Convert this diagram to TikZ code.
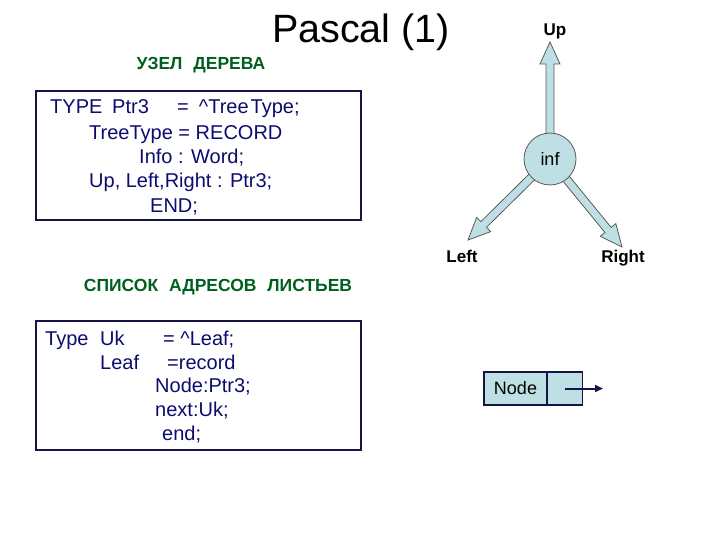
\documentclass[tikz,border=0pt]{standalone}
\usepackage{fontspec}
\setmainfont{Liberation Sans}
\usetikzlibrary{positioning, calc, backgrounds, arrows.meta}

\definecolor{codeblue}{RGB}{12,12,110}
\definecolor{headgreen}{RGB}{0,95,30}
\definecolor{paleblue}{RGB}{190,224,228}
\definecolor{boxline}{RGB}{20,20,70}

% fat block arrow from #1 to #2
\newcommand{\fatarrow}[2]{%
  \coordinate (fa-h) at ($(#2)!22pt!(#1)$);
  \filldraw[fatarr] ($(#1)!4pt!90:(#2)$) -- ($(fa-h)!4pt!-90:(#1)$)
    -- ($(fa-h)!10pt!-90:(#1)$) -- (#2) -- ($(fa-h)!10pt!90:(#1)$)
    -- ($(fa-h)!4pt!90:(#1)$) -- ($(#1)!4pt!-90:(#2)$) -- cycle;}

\begin{document}
\begin{tikzpicture}[x=1pt, y=-1pt, >=stealth,
    code/.style={anchor=base west, inner sep=0pt, text=codeblue, font=\fontsize{20}{24}\selectfont},
    head/.style={anchor=base, inner sep=0pt, text=headgreen, font=\bfseries\fontsize{17.5}{20}\selectfont},
    lbl/.style={anchor=base, inner sep=0pt, font=\bfseries\fontsize{17}{20}\selectfont},
    codebox/.style={draw=boxline, line width=1.2pt},
    fatarr/.style={fill=paleblue, draw=black!65, line width=0.8pt},
    rec/.style={draw=boxline, fill=paleblue, line width=1.5pt, minimum height=33pt, inner sep=0pt}]
  \useasboundingbox (0,0) rectangle (720,540);

  \node[anchor=base, font=\fontsize{39.5}{44}\selectfont] (title) at (361,43) {Pascal (1)};

  % tree node
  \node[head] (treeHead) at (201,70) {УЗЕЛ\hspace{6pt} ДЕРЕВА};
  \draw[codebox] (36,91) rectangle (361,220);
  \node[code] (t1) at (50,114) {\rlap{TYPE}\hspace{62pt}\rlap{Ptr3}\hspace{65pt}=\hspace{10pt}\textasciicircum Tree\hspace{2pt}Type;};
  \node[code] (t2) at (89,140) {TreeType = RECORD};
  \node[code] (t3) at (139,164) {\rlap{Info}\hspace{39pt}: Word;};
  \node[code] (t4) at (89,188) {Up, Left,Right : Ptr3;};
  \node[code] (t5) at (150,212) {END;};

  % leaf list
  \node[head] (listHead) at (218,291) {СПИСОК\hspace{6pt} АДРЕСОВ\hspace{6pt} ЛИСТЬЕВ};
  \draw[codebox] (36,321) rectangle (361,450);
  \node[code] (l1) at (45,345) {\rlap{Type}\hspace{55pt}\rlap{Uk}\hspace{63pt}= \textasciicircum Leaf;};
  \node[code] (l2) at (100,369) {\rlap{Leaf}\hspace{67pt}=record};
  \node[code] (l3) at (155,392) {Node:Ptr3;};
  \node[code] (l4) at (155,416) {next:Uk;};
  \node[code] (l5) at (162,440) {end;};

  % node with three pointers
  \node[circle, draw=black!65, fill=paleblue, line width=0.8pt, minimum size=52pt,
        inner sep=0pt, font=\fontsize{18}{20}\selectfont] (inf) at (550,159) {inf};
  \coordinate (upTip) at (550,42);
  \coordinate (leftTip) at (468,240);
  \coordinate (rightTip) at (622,247);
  \begin{scope}[on background layer]
    \fatarrow{inf.center}{upTip}
    \fatarrow{inf.center}{leftTip}
    \fatarrow{inf.center}{rightTip}
  \end{scope}
  \node[lbl] (upLbl) at (555,36) {Up};
  \node[lbl] (leftLbl) at (462,262) {Left};
  \node[lbl] (rightLbl) at (623,262) {Right};

  % list element
  \node[rec, minimum width=63pt, font=\fontsize{18}{20}\selectfont] (recNode) at (515.5,388.5) {Node};
  \node[rec, minimum width=35.5pt, right=-1.5pt of recNode] (recNext) {};
  \coordinate (nextEnd) at (603,388.5);
  \draw[-{Triangle[length=8pt,width=7pt]}, draw=boxline, fill=boxline, line width=2pt] (recNext.center) -- (nextEnd);
\end{tikzpicture}
\end{document}
